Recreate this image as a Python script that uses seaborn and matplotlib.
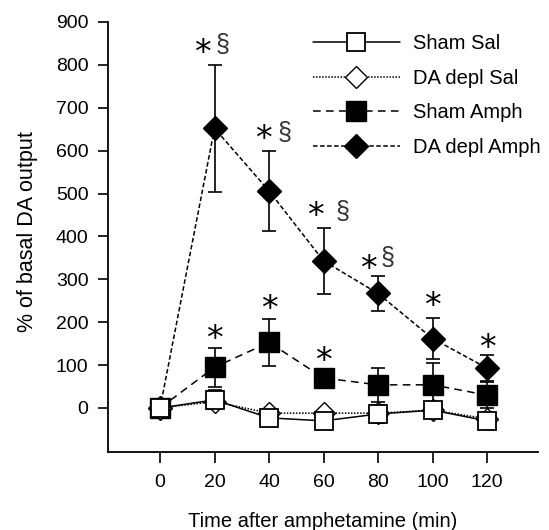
import matplotlib
matplotlib.use("Agg")
import matplotlib.pyplot as plt
import seaborn as sns
import numpy as np

# ---- data ----
times = [0, 20, 40, 60, 80, 100, 120]
sham_sal = [0, 19, -23, -30, -14, -5, -30]
sham_sal_err = [0, 22, 0, 0, 20, 0, 0]
da_sal = [0, 15, -12, -12, -12, -5, -25]
sham_amph = [0, 95, 153, 70, 54, 54, 30]
sham_amph_err = [0, 45, 55, 15, 40, 50, 30]
da_amph = [0, 652, 506, 343, 267, 162, 93]
da_amph_err = [0, 148, 93, 77, 40, 47, 30]

star_x = [15.5, 38, 57, 76.5, 100, 120, 20, 40, 60]
star_y = [842, 643, 462, 340, 252, 154, 175, 247, 124]
sect_x = [23, 45.5, 67, 83.5]
sect_y = [846, 641, 457, 350]

labels = ["Sham Sal", "DA depl Sal", "Sham Amph", "DA depl Amph"]
xticks = [0, 20, 40, 60, 80, 100, 120]
yticks = [0, 100, 200, 300, 400, 500, 600, 700, 800, 900]

sns.set_style("ticks")
plt.rcParams['font.family'] = ['Liberation Sans', 'DejaVu Sans']
plt.rcParams['text.color'] = 'black'
plt.rcParams['axes.labelcolor'] = 'black'

fig = plt.figure(figsize=(5.49, 5.30), dpi=100)
ax = fig.add_axes([108/549, 1-452/530, (538-108)/549, (452-22)/530])

lw = 1.1
for vals, errs in [(da_amph, da_amph_err), (sham_amph, sham_amph_err),
                   (sham_sal, sham_sal_err)]:
    ax.errorbar(times, vals, yerr=errs, fmt='none', ecolor='black',
                elinewidth=1.2, capsize=5, capthick=1.2, zorder=1)

sns.lineplot(x=times, y=da_amph, ax=ax, color='black', lw=lw,
             linestyle=(0, (3, 1.6)), marker='D', markersize=12,
             markerfacecolor='black', markeredgecolor='black', mew=1.0,
             label=labels[3], zorder=3)
sns.lineplot(x=times, y=sham_amph, ax=ax, color='black', lw=lw,
             linestyle=(0, (5, 3.5)), marker='s', markersize=14,
             markerfacecolor='black', markeredgecolor='black', mew=1.0,
             label=labels[2], zorder=3)
sns.lineplot(x=times, y=da_sal, ax=ax, color='black', lw=lw,
             linestyle=(0, (1, 1)), marker='D', markersize=11,
             markerfacecolor='white', markeredgecolor='black', mew=1.0,
             label=labels[1], zorder=3)
sns.lineplot(x=times, y=sham_sal, ax=ax, color='black', lw=lw,
             linestyle='-', marker='s', markersize=13.5,
             markerfacecolor='white', markeredgecolor='black', mew=1.3,
             label=labels[0], zorder=4)

handles, labs = ax.get_legend_handles_labels()
order = [labs.index(l) for l in labels]
leg = ax.legend([handles[i] for i in order], [labs[i] for i in order],
                loc='upper left', bbox_to_anchor=(313/549, 1-34/530),
                bbox_transform=fig.transFigure, frameon=False, borderpad=0,
                borderaxespad=0, handlelength=4.3, handletextpad=0.65,
                labelspacing=0.78, fontsize=14.5, numpoints=1)

for x, y in zip(star_x, star_y):
    ax.annotate('*', (x, y), xytext=(0, -5), textcoords='offset points',
                ha='center', va='center', fontsize=24,
                family='DejaVu Sans', color='black')
for x, y in zip(sect_x, sect_y):
    ax.text(x, y, '§', ha='center', va='center', fontsize=18,
            family='Liberation Sans', color='#333333')

ax.set_xlim(-19.1, 138.7)
ax.set_ylim(-102.6, 900)
ax.set_xticks(xticks)
ax.set_yticks(yticks)
ax.tick_params(axis='both', direction='out', width=1.2,
               labelsize=14, colors='black')
ax.tick_params(axis='x', length=8, pad=8)
ax.tick_params(axis='y', length=7.5, pad=6.5)
for s in ['left', 'bottom']:
    ax.spines[s].set_linewidth(1.3)
    ax.spines[s].set_color('black')
for s in ['top', 'right']:
    ax.spines[s].set_visible(False)
ax.set_xlabel("Time after amphetamine (min)", fontsize=14.5)
ax.set_ylabel("% of basal DA output", fontsize=15.5)
ax.xaxis.set_label_coords((323-108)/430, (452-512)/430)
ax.yaxis.set_label_coords((38-108)/430, (452-232)/430)

fig.savefig("out.png", dpi=100)
